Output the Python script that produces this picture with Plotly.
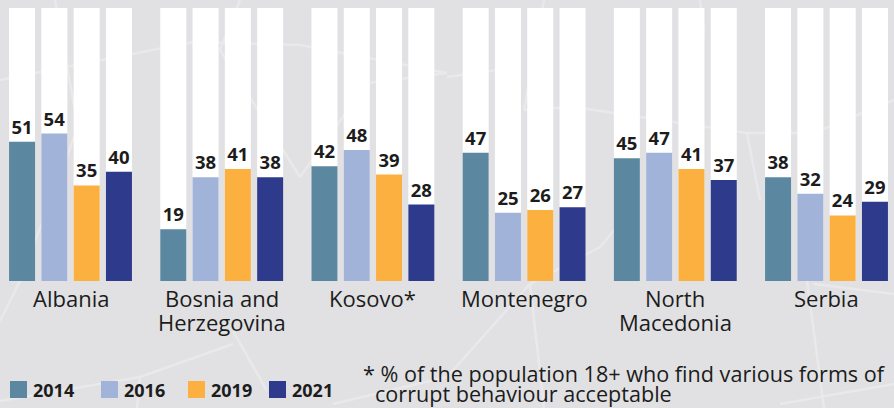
import plotly.graph_objects as go

countries = ["Albania", "Bosnia and<br>Herzegovina", "Kosovo*", "Montenegro", "North<br>Macedonia", "Serbia"]
years = ["2014", "2016", "2019", "2021"]
v2014 = [51, 19, 42, 47, 45, 38]
v2016 = [54, 38, 48, 25, 47, 32]
v2019 = [35, 41, 39, 26, 41, 24]
v2021 = [40, 38, 28, 27, 37, 29]
full_scale = [100, 100, 100, 100, 100, 100]
footnote = ["* % of the population 18+ who find various forms of", "corrupt behaviour acceptable"]

series = [v2014, v2016, v2019, v2021]
colors = ["#5b87a0", "#a2b3da", "#fbb040", "#2e3a8c"]

FONT = "Open Sans"
TXT = "#1c1c1c"
BG = "#e1e1e3"

W, H = 894, 408
T, B = 8, 127          # plot area top / bottom margins (px)
PH = H - T - B         # plot height in px


def py(pix):
    """pixel row -> paper y"""
    return 1 - (pix - T) / PH


xs = list(range(len(countries)))
bar_w = 0.172
pitch = 0.2136
n = len(series)

fig = go.Figure()

# white backdrop bars (100%)
for j in range(n):
    off = -((n - 1) * pitch) / 2 + j * pitch - bar_w / 2
    fig.add_trace(go.Bar(
        x=xs, y=full_scale, width=bar_w, offset=off,
        marker=dict(color="white", line=dict(width=0)),
        showlegend=False, hoverinfo="skip",
    ))

for j, (vals, col, yr) in enumerate(zip(series, colors, years)):
    off = -((n - 1) * pitch) / 2 + j * pitch - bar_w / 2
    fig.add_trace(go.Bar(
        x=xs, y=vals, width=bar_w, offset=off, name=yr,
        marker=dict(color=col, line=dict(width=0)),
        text=[str(v) for v in vals], textposition="outside",
        textfont=dict(family=FONT, size=18.5, color=TXT, weight="bold"),
        constraintext="none", cliponaxis=False,
        showlegend=False,
    ))

# faint background map lines (decorative), in pixel coordinates
deco = [
    (0, 80, 193, 42), (193, 42, 300, 45), (300, 45, 447, 73), (447, 77, 497, 70),
    (55, 0, 78, 127), (78, 127, 20, 281), (20, 281, 0, 321),
    (240, 0, 220, 50), (220, 50, 300, 177), (300, 177, 367, 83), (367, 83, 447, 73),
    (544, 0, 524, 110), (524, 110, 574, 107), (574, 107, 747, 133), (700, 0, 704, 33),
    (747, 133, 814, 133), (814, 133, 894, 100), (747, 133, 760, 200),
    (0, 401, 140, 377), (140, 377, 137, 408), (140, 377, 233, 344), (233, 331, 267, 391),
    (333, 404, 447, 377), (447, 377, 530, 284), (530, 284, 600, 247), (530, 284, 544, 408),
    (780, 404, 894, 384), (814, 284, 894, 294), (807, 281, 824, 408), (600, 247, 640, 200),
]
shapes = []
for x0, y0, x1, y1 in deco:
    shapes.append(dict(type="line", xref="paper", yref="paper",
                       x0=x0 / W, y0=py(y0), x1=x1 / W, y1=py(y1),
                       line=dict(color="#e9e9eb", width=2.5), layer="below"))

annotations = []

# category labels under each group (one annotation per text line)
for i, lab in enumerate(countries):
    for k, line in enumerate(lab.split("<br>")):
        annotations.append(dict(
            text=line, x=xs[i], xref="x", y=py(298 + 24 * k), yref="paper",
            xanchor="center", yanchor="middle", showarrow=False,
            font=dict(family=FONT, size=22, color=TXT)))

# legend (squares + bold labels)
leg_sq_x = [10, 101, 188, 269]
for xp, col, yr in zip(leg_sq_x, colors, years):
    shapes.append(dict(type="rect", xref="paper", yref="paper",
                       x0=xp / W, x1=(xp + 17) / W, y0=py(398), y1=py(381),
                       fillcolor=col, line=dict(width=0)))
    annotations.append(dict(
        text=yr, x=(xp + 21) / W, xref="paper", y=py(390), yref="paper",
        xanchor="left", yanchor="middle", showarrow=False,
        font=dict(family=FONT, size=18, color=TXT, weight="bold")))

# footnote
annotations.append(dict(text=footnote[0], x=361 / W, xref="paper", y=py(373), yref="paper",
                        xanchor="left", yanchor="middle", showarrow=False,
                        font=dict(family=FONT, size=21.6, color=TXT)))
annotations.append(dict(text=footnote[1], x=373 / W, xref="paper", y=py(393), yref="paper",
                        xanchor="left", yanchor="middle", showarrow=False,
                        font=dict(family=FONT, size=21.6, color=TXT)))

fig.update_layout(
    width=W, height=H,
    margin=dict(l=0, r=0, t=T, b=B, autoexpand=False),
    paper_bgcolor=BG, plot_bgcolor="rgba(0,0,0,0)",
    barmode="overlay",
    shapes=shapes,
    annotations=annotations,
    showlegend=False,
    font=dict(family=FONT, color=TXT),
    xaxis=dict(
        range=[-0.4663, 5.4464], showgrid=False, zeroline=False, showline=False,
        showticklabels=False, ticks="", automargin=False, fixedrange=True,
    ),
    yaxis=dict(range=[0, 100], visible=False, fixedrange=True, automargin=False),
)

fig.write_html(
    "out.html",
    config={"displayModeBar": False},
    post_script="document.body.style.margin='0';document.body.style.padding='0';"
                "document.body.style.overflow='hidden';document.body.style.background='" + BG + "';",
)
